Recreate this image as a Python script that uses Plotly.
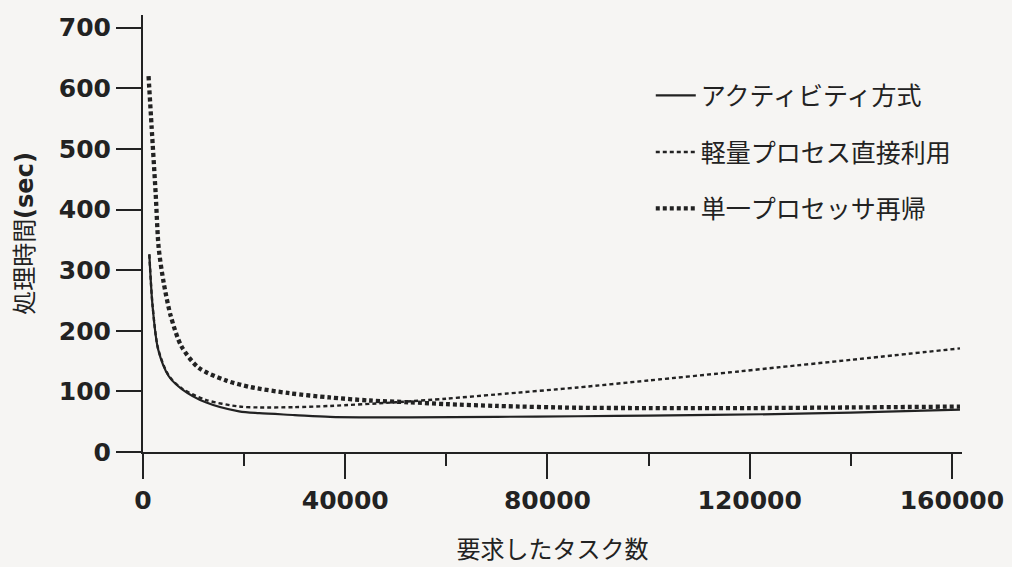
import plotly.graph_objects as go

# ---- data ----
activity_x = [1250, 1900, 3000, 5100, 7750, 12400, 19000, 23000, 30000, 37000,
              52700, 70000, 86000, 100000, 125000, 140000, 161600]
activity_y = [326, 240, 169, 125, 103.5, 82, 67, 64, 61, 58,
              57, 58, 59, 60, 62.5, 65, 70]

lwp_x = [1250, 1900, 3000, 5100, 7750, 12400, 19000, 23000, 30000, 37000,
         50000, 60000, 70000, 86000, 100000, 118000, 126000, 140000, 161600]
lwp_y = [326, 241, 170, 126, 104.5, 86, 75, 73.5, 74, 76,
         82, 88, 95, 106.5, 118, 133, 140, 152, 171]

uni_x = [1100, 1700, 2500, 3100, 4100, 5500, 7600, 11000, 16300, 21300,
         29000, 36900, 44800, 52700, 60000, 70000, 86000, 100000, 120000,
         140000, 161600]
uni_y = [620, 537, 427, 337, 279, 224, 174.5, 139, 118.4, 107,
         97, 90, 85, 82, 79, 76, 73, 72.5, 72.5, 73.5, 75]

series_names = ["アクティビティ方式", "軽量プロセス直接利用", "単一プロセッサ再帰"]
x_tick_vals = [0, 40000, 80000, 120000, 160000]
x_tick_text = ["0", "40000", "80000", "120000", "160000"]
y_tick_vals = [0, 100, 200, 300, 400, 500, 600, 700]

x_title = "要求したタスク数"
y_title_jp = "処理時間"
y_title_unit = "(sec)"

INK = "#222222"
BG = "#f6f5f3"
JP_FONT = "Noto Sans CJK JP"
NUM_FONT = "DejaVu Sans"

fig = go.Figure()
fig.add_trace(go.Scatter(
    x=activity_x, y=activity_y, name=series_names[0], mode="lines",
    line=dict(color=INK, width=2.2, shape="spline", smoothing=0.8),
    legendgroup="a"))
fig.add_trace(go.Scatter(
    x=lwp_x, y=lwp_y, name=series_names[1], mode="lines",
    line=dict(color=INK, width=2.4, dash="4px,3px", shape="spline", smoothing=0.8),
    legendgroup="b"))
fig.add_trace(go.Scatter(
    x=uni_x, y=uni_y, name=series_names[2], mode="lines",
    line=dict(color=INK, width=4.3, dash="4px,3px", shape="spline", smoothing=0.8),
    legendgroup="c"))

fig.update_layout(
    width=1012, height=567,
    margin=dict(l=143, r=50, t=15, b=115),
    paper_bgcolor=BG, plot_bgcolor=BG,
    showlegend=True,
    legend=dict(
        x=0.62, y=0.868, xanchor="left", yanchor="top",
        bgcolor="rgba(0,0,0,0)",
        font=dict(family=JP_FONT, size=25, color=INK),
        tracegroupgap=21, itemwidth=40,
    ),
    xaxis=dict(
        range=[0, 162000], automargin=False,
        tickvals=x_tick_vals, ticktext=x_tick_text,
        ticks="outside", ticklen=25, tickwidth=2, tickcolor=INK,
        minor=dict(dtick=20000, tick0=0, ticks="outside", ticklen=12,
                   tickwidth=2, tickcolor=INK),
        showline=True, linewidth=2, linecolor=INK,
        showgrid=False, zeroline=False,
        tickfont=dict(family=NUM_FONT, size=25, color=INK, weight="bold"),
        title=dict(text=x_title, font=dict(family=JP_FONT, size=24, color=INK),
                   standoff=27),
    ),
    yaxis=dict(
        range=[0, 721], automargin=False,
        tickvals=y_tick_vals,
        ticks="outside", ticklen=25, tickwidth=2, tickcolor=INK,
        showline=True, linewidth=2, linecolor=INK,
        showgrid=False, zeroline=False,
        tickfont=dict(family=NUM_FONT, size=25, color=INK, weight="bold"),
        title=dict(
            text=(y_title_jp + '<span style="font-family:DejaVu Sans;font-weight:bold">'
                  + y_title_unit + "</span>"),
            font=dict(family=JP_FONT, size=24, color=INK),
            standoff=18),
    ),
)

fig.write_html(
    "out.html",
    config={"displayModeBar": False},
    post_script=("document.body.style.margin='0';"
                 "document.body.style.background='" + BG + "';"
                 "document.documentElement.style.overflow='hidden';"),
)
